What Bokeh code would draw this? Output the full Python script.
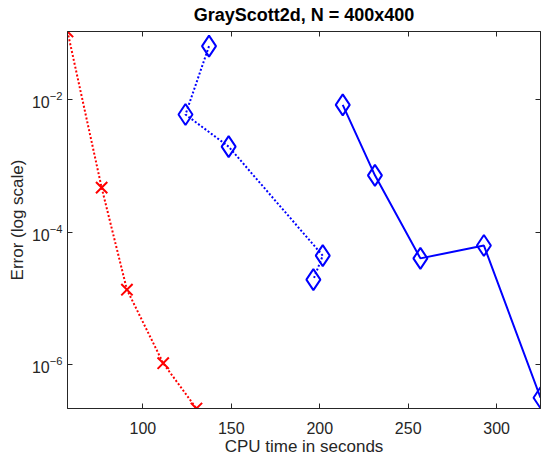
from bokeh.plotting import figure
from bokeh.models import LogAxis, LinearAxis, FixedTicker, CustomJSTickFormatter, Range1d, LogTickFormatter
from bokeh.embed import file_html
from bokeh.resources import INLINE

# CPU time (s) and error for the three methods
red_t = [57.4, 76.7, 91.0, 111.5, 130.3]
red_err = [1.06e-1, 4.7e-4, 1.36e-5, 1.06e-6, 2.2e-7]
dot_t = [137.4, 124.1, 148.5, 201.7, 196.4]
dot_err = [6.37e-2, 5.94e-3, 1.95e-3, 4.44e-5, 1.93e-5]
solid_t = [213.0, 231.2, 256.9, 292.8, 324.8]
solid_err = [8.3e-3, 7.2e-4, 4.03e-5, 6.3e-5, 3.2e-7]

x_ticks = [100, 150, 200, 250, 300]
y_ticks = [1e-6, 1e-4, 1e-2]

all_t = red_t + dot_t + solid_t
all_e = red_err + dot_err + solid_err

FONT = "Liberation Sans"
AX = "#262626"

p = figure(width=543, height=459, y_axis_type="log",
           x_range=Range1d(min(all_t), max(all_t)),
           y_range=Range1d(min(all_e), max(all_e)),
           output_backend="svg", toolbar_location=None,
           min_border_left=67, min_border_right=2, min_border_top=31, min_border_bottom=51)

p.title.text = "GrayScott2d, N = 400x400"
p.title.align = "center"
p.title.text_font = FONT
p.title.text_font_size = "18px"
p.title.text_font_style = "bold"
p.title.text_color = "#000000"
p.title.standoff = 5

p.xgrid.visible = False
p.ygrid.visible = False
p.outline_line_color = AX
p.outline_line_width = 1
p.background_fill_color = "white"
p.border_fill_color = "white"

def style(ax):
    ax.axis_line_color = AX
    ax.major_tick_line_color = AX
    ax.major_tick_in = 5
    ax.major_tick_out = 0
    ax.minor_tick_line_color = None
    ax.major_label_text_font = FONT
    ax.major_label_text_color = AX
    ax.major_label_text_font_size = "16px"
    ax.axis_label_text_font = FONT
    ax.axis_label_text_color = AX
    ax.axis_label_text_font_size = "17px"
    ax.axis_label_text_font_style = "normal"

xa = p.xaxis[0]
xa.ticker = FixedTicker(ticks=x_ticks)
xa.axis_label = "CPU time in seconds"
style(xa)
xa.major_label_standoff = 13
xa.axis_label_standoff = 0

ya = p.yaxis[0]
ya.ticker = FixedTicker(ticks=y_ticks)
ya.formatter = LogTickFormatter()
ya.axis_label = "Error (log scale)"
style(ya)
ya.major_label_standoff = 5
ya.axis_label_standoff = 2

blank = "return ' ';"

top = LinearAxis(ticker=FixedTicker(ticks=x_ticks), formatter=CustomJSTickFormatter(code=blank))
style(top)
top.major_label_text_font_size = "1px"
top.major_label_standoff = 0
p.add_layout(top, "above")

right = LogAxis(ticker=FixedTicker(ticks=y_ticks), formatter=CustomJSTickFormatter(code=blank))
style(right)
right.major_label_text_font_size = "1px"
right.major_label_standoff = 0
p.add_layout(right, "right")

RED = "#ff0000"
BLUE = "#0000ff"

p.line(red_t, red_err, line_color=RED, line_width=2, line_dash="2 2")
p.scatter(red_t, red_err, marker="x", size=16, line_color=RED, line_width=2)

p.line(dot_t, dot_err, line_color=BLUE, line_width=2, line_dash="2 2")
p.scatter(dot_t, dot_err, marker="diamond", size=21, line_color=BLUE, line_width=2, fill_color=None)

p.line(solid_t, solid_err, line_color=BLUE, line_width=2)
p.scatter(solid_t, solid_err, marker="diamond", size=21, line_color=BLUE, line_width=2, fill_color=None)

open("out.html", "w").write(file_html(p, INLINE))
